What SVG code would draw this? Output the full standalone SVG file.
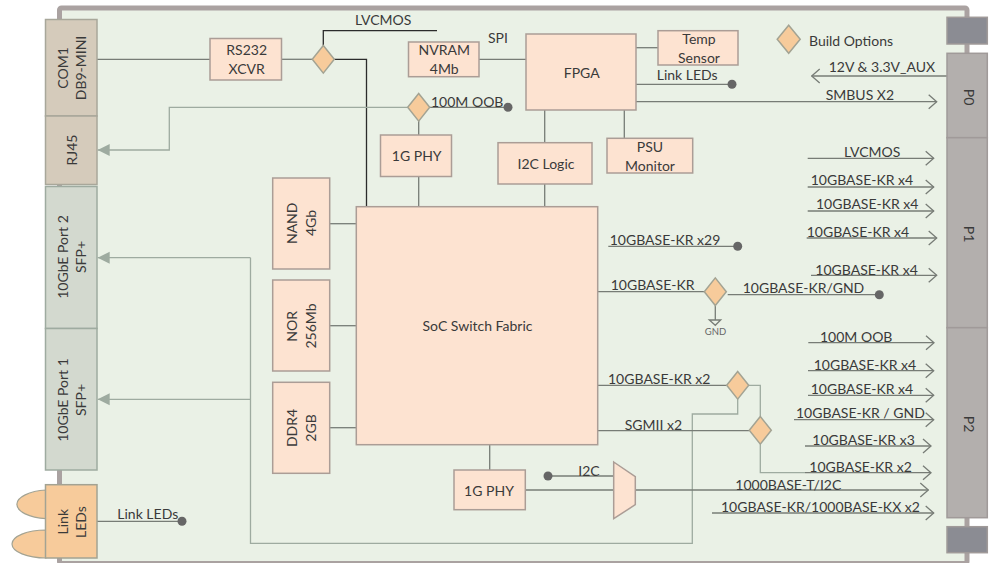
<svg xmlns="http://www.w3.org/2000/svg" width="993" height="563" viewBox="0 0 993 563">
<style>
text{font-family:Lato,"Liberation Sans",sans-serif;font-size:14px;fill:#3a3a3a}
.m{text-anchor:middle}
.box rect,.box polygon{fill:#fde3d1;stroke:#ab9d96;stroke-width:1.5}
.con rect{stroke-width:1.5}
.dia polygon,polygon.dia{fill:#f7cb9b;stroke:#a3a393;stroke-width:1.5}
#connectors path{fill:none;stroke:#777c76;stroke-width:1.3}
#connectors path.g{stroke:#9eaba0;stroke-width:1.3}
#connectors path.k{stroke:#2b2b2b}
#connectors path.o{marker-end:url(#open)}
#connectors path.a{stroke:#9eaba0;marker-end:url(#fill)}
#connectors circle{fill:#666}
</style>
<defs>
<marker id="open" markerUnits="userSpaceOnUse" markerWidth="10" markerHeight="16" refX="9" refY="8" orient="auto"><path d="M1,1 L9,8 L1,15" fill="none" stroke="#777c76" stroke-width="1.3"/></marker>
<marker id="fill" markerUnits="userSpaceOnUse" markerWidth="13" markerHeight="13" refX="12.5" refY="6.5" orient="auto"><path d="M0.5,0.5 L12.5,6.5 L0.5,12.5 Z" fill="#9eaba0" stroke="none"/></marker>
</defs>
<rect width="993" height="563" fill="#fff"/>
<g id="board"><rect x="59.5" y="8" width="907.5" height="555.5" rx="2" fill="#eaf1e6" stroke="#aaa2a1" stroke-width="5"/></g>
<g id="connectors">
<path d="M97,59.3H210"/><path d="M281.5,59.3H312"/>
<path class="k" d="M323.3,45.5V30.7H437"/>
<path class="k" d="M334.3,59.3H366.5V206.7"/>
<path class="a" d="M407.7,107.3H169.3V150H97.7"/>
<path d="M429.7,107.3H508"/><circle cx="508" cy="107.3" r="4.5"/>
<path d="M418.7,121V135"/><path d="M418.7,176.5V208"/>
<path d="M479,59.3H526"/><path d="M636,47.7H658"/>
<path d="M636,84.3H732"/><circle cx="732" cy="84.3" r="4.5"/>
<path class="o" d="M636,101.7H936.7"/>
<path class="o" d="M947,76H811.7"/>
<path d="M544.7,110V142.7"/><path d="M544.7,184V206.7"/><path d="M624.3,110V138.3"/>
<path d="M329.7,223.7H356.3"/><path d="M329.7,325.7H356.3"/><path d="M329.7,427.7H356.3"/>
<path class="a" d="M250.5,257.7H97.7"/><path class="a" d="M250.5,399.3H97.7"/>
<path class="g" d="M737.7,399V414H692.3V543.3H250.5V257.7"/>
<path class="o" d="M807.7,158.3H933.7"/><path class="o" d="M807.7,187H933.7"/><path class="o" d="M807.7,211H933.7"/>
<path class="o" d="M806.7,238H936.7"/><path class="o" d="M811,275.3H936.7"/>
<path d="M608.3,246.3H737.7"/><circle cx="737.7" cy="246.3" r="4.5"/>
<path d="M597.7,291.7H704"/>
<path d="M727.7,294.7H879.3"/><circle cx="879.3" cy="294.7" r="4.5"/>
<path d="M715.3,305.5V320"/><path d="M709.3,320H720.7L715.3,325.3Z"/>
<path class="o" d="M808.3,342.7H934"/><path class="o" d="M808,370.7H933.7"/><path class="o" d="M808,395.3H933.7"/>
<path class="o" d="M794,419.7H933.7"/><path class="o" d="M805,446H931"/>
<path class="g" d="M760.3,444.3V472.7H805"/><path class="o" d="M805,472.7H931"/>
<path class="g" d="M749,385.3H760.3V416.3"/>
<path d="M597.7,385.3H726.7"/><path d="M597.7,430.7H749"/>
<path d="M525.3,490H613.7"/><path class="o" d="M635.3,490H928.3"/>
<path d="M548,476H613.7"/><circle cx="548" cy="476" r="4.5"/>
<path class="o" d="M712,513H933.7"/>
<path d="M489.7,444.7V470"/>
<path d="M97,521.3H182"/><circle cx="182" cy="521.3" r="4.5"/>
</g>
<g class="con">
<g id="p-top"><rect x="947" y="17.3" width="40.3" height="26.7" fill="#8b8c93" stroke="#a09a99"/></g>
<g id="p-bottom"><rect x="947" y="526.7" width="40.3" height="26" fill="#8b8c93" stroke="#a09a99"/></g>
<g id="p0"><rect x="947" y="53.3" width="40.3" height="84.4" fill="#b3afad" stroke="#a09a99"/><text transform="translate(963.5,97) rotate(90)" class="m">P0</text></g>
<g id="p1"><rect x="947" y="137.7" width="40.3" height="190" fill="#b3afad" stroke="#a09a99"/><text transform="translate(963.5,234) rotate(90)" class="m">P1</text></g>
<g id="p2"><rect x="947" y="327.7" width="40.3" height="190" fill="#b3afad" stroke="#a09a99"/><text transform="translate(963.5,424) rotate(90)" class="m">P2</text></g>
<g id="com1"><rect x="45.5" y="19.5" width="51.5" height="96.5" fill="#d5cbbb" stroke="#a8a79a"/><text transform="translate(67.7,68) rotate(-90)" class="m">COM1</text><text transform="translate(86,68) rotate(-90)" class="m">DB9-MINI</text></g>
<g id="rj45"><rect x="45.5" y="116" width="51.5" height="68.5" fill="#d5cbbb" stroke="#a8a79a"/><text transform="translate(76.7,150) rotate(-90)" class="m">RJ45</text></g>
<g id="sfp2"><rect x="45.5" y="186.5" width="51.5" height="142" fill="#d3d9cf" stroke="#9eaba0"/><text transform="translate(67.7,257) rotate(-90)" class="m">10GbE Port 2</text><text transform="translate(86,257) rotate(-90)" class="m">SFP+</text></g>
<g id="sfp1"><rect x="45.5" y="328.5" width="51.5" height="141.5" fill="#d3d9cf" stroke="#9eaba0"/><text transform="translate(67.7,400) rotate(-90)" class="m">10GbE Port 1</text><text transform="translate(86,400) rotate(-90)" class="m">SFP+</text></g>
<g id="leds">
<path d="M46,490A34,14.5 0 0 0 46,518.7Z" fill="#f7cb9b" stroke="#a3a393" stroke-width="1.2"/>
<path d="M46,530A34,14 0 0 0 46,558Z" fill="#f7cb9b" stroke="#a3a393" stroke-width="1.2"/>
<rect x="45.5" y="484.7" width="51.5" height="73.3" fill="#f7cb9b" stroke="#a3a393"/><text transform="translate(67.7,521.7) rotate(-90)" class="m">Link</text><text transform="translate(86,522) rotate(-90)" class="m">LEDs</text></g>
</g>
<g class="box">
<g id="rs232"><rect x="210" y="38.5" width="71.5" height="41.5"/><text x="246.7" y="55" class="m">RS232</text><text x="246.7" y="74" class="m">XCVR</text></g>
<g id="nvram"><rect x="408.5" y="42" width="70.5" height="34.7"/><text x="444.3" y="55" class="m">NVRAM</text><text x="444.3" y="74" class="m">4Mb</text></g>
<g id="phy1"><rect x="380.5" y="135" width="71" height="41.5"/><text x="416.7" y="161" class="m">1G PHY</text></g>
<g id="i2c"><rect x="498" y="142.7" width="94" height="41.3"/><text x="546" y="169" class="m">I2C Logic</text></g>
<g id="fpga"><rect x="526" y="34" width="110" height="76"/><text x="581.7" y="77.7" class="m">FPGA</text></g>
<g id="temp"><rect x="658" y="30.7" width="80" height="34.3"/><text x="699" y="44.3" class="m">Temp</text><text x="699" y="63.3" class="m">Sensor</text></g>
<g id="psu"><rect x="607" y="138.3" width="85.7" height="34.7"/><text x="650" y="152.3" class="m">PSU</text><text x="650" y="171.3" class="m">Monitor</text></g>
<g id="nand"><rect x="272.7" y="178" width="57" height="91"/><text transform="translate(296.7,223.3) rotate(-90)" class="m">NAND</text><text transform="translate(316,223) rotate(-90)" class="m">4Gb</text></g>
<g id="nor"><rect x="272.7" y="280" width="57" height="91"/><text transform="translate(296.7,326.3) rotate(-90)" class="m">NOR</text><text transform="translate(316,326) rotate(-90)" class="m">256Mb</text></g>
<g id="ddr4"><rect x="272.7" y="382.3" width="57" height="91"/><text transform="translate(296.7,428) rotate(-90)" class="m">DDR4</text><text transform="translate(316,428) rotate(-90)" class="m">2GB</text></g>
<g id="soc"><rect x="356.3" y="206.7" width="241.4" height="238"/><text x="477.5" y="331.3" class="m">SoC Switch Fabric</text></g>
<g id="phy2"><rect x="454" y="470" width="71.3" height="39.7"/><text x="489" y="495.5" class="m">1G PHY</text></g>
<g id="mux"><polygon points="613.7,462 635.3,476.7 635.3,504.7 613.7,518.7"/></g>
</g>
<g class="dia">
<polygon id="d1" points="323.3,45.5 334.3,59.3 323.3,73.1 312.3,59.3"/>
<polygon id="d2" points="418.7,93.5 429.7,107.3 418.7,121.1 407.7,107.3"/>
<polygon id="d3" points="788.7,25.3 800.2,39.3 788.7,53.3 777.2,39.3"/>
<polygon id="d4" points="715.3,277.9 726.3,291.7 715.3,305.5 704.3,291.7"/>
<polygon id="d5" points="737.7,371.5 748.7,385.3 737.7,399.1 726.7,385.3"/>
<polygon id="d6" points="760.3,416.5 771.3,430.3 760.3,444.1 749.3,430.3"/>
</g>
<g id="labels">
<text x="355" y="25">LVCMOS</text>
<text x="488" y="43">SPI</text>
<text x="431" y="106.7">100M OOB</text>
<text x="656.7" y="80">Link LEDs</text>
<text x="809" y="46">Build Options</text>
<text x="828.7" y="72.3">12V &amp; 3.3V_AUX</text>
<text x="825.7" y="100">SMBUS X2</text>
<text x="844" y="157.3">LVCMOS</text>
<text x="810.7" y="185">10GBASE-KR x4</text>
<text x="816" y="209">10GBASE-KR x4</text>
<text x="806.7" y="237">10GBASE-KR x4</text>
<text x="815.3" y="275">10GBASE-KR x4</text>
<text x="609.7" y="245">10GBASE-KR x29</text>
<text x="610.7" y="290">10GBASE-KR</text>
<text x="742.7" y="292.7">10GBASE-KR/GND</text>
<text x="715.5" y="335" class="m" style="font-size:9.5px;fill:#666">GND</text>
<text x="820" y="342">100M OOB</text>
<text x="813.7" y="370">10GBASE-KR x4</text>
<text x="810.7" y="394.3">10GBASE-KR x4</text>
<text x="796" y="418">10GBASE-KR / GND</text>
<text x="812.3" y="445.3">10GBASE-KR x3</text>
<text x="809.3" y="472">10GBASE-KR x2</text>
<text x="735.3" y="490">1000BASE-T/I2C</text>
<text x="721" y="512">10GBASE-KR/1000BASE-KX x2</text>
<text x="608" y="384">10GBASE-KR x2</text>
<text x="624.7" y="430">SGMII x2</text>
<text x="578.3" y="476.3">I2C</text>
<text x="117.3" y="518.7">Link LEDs</text>
</g>
</svg>
